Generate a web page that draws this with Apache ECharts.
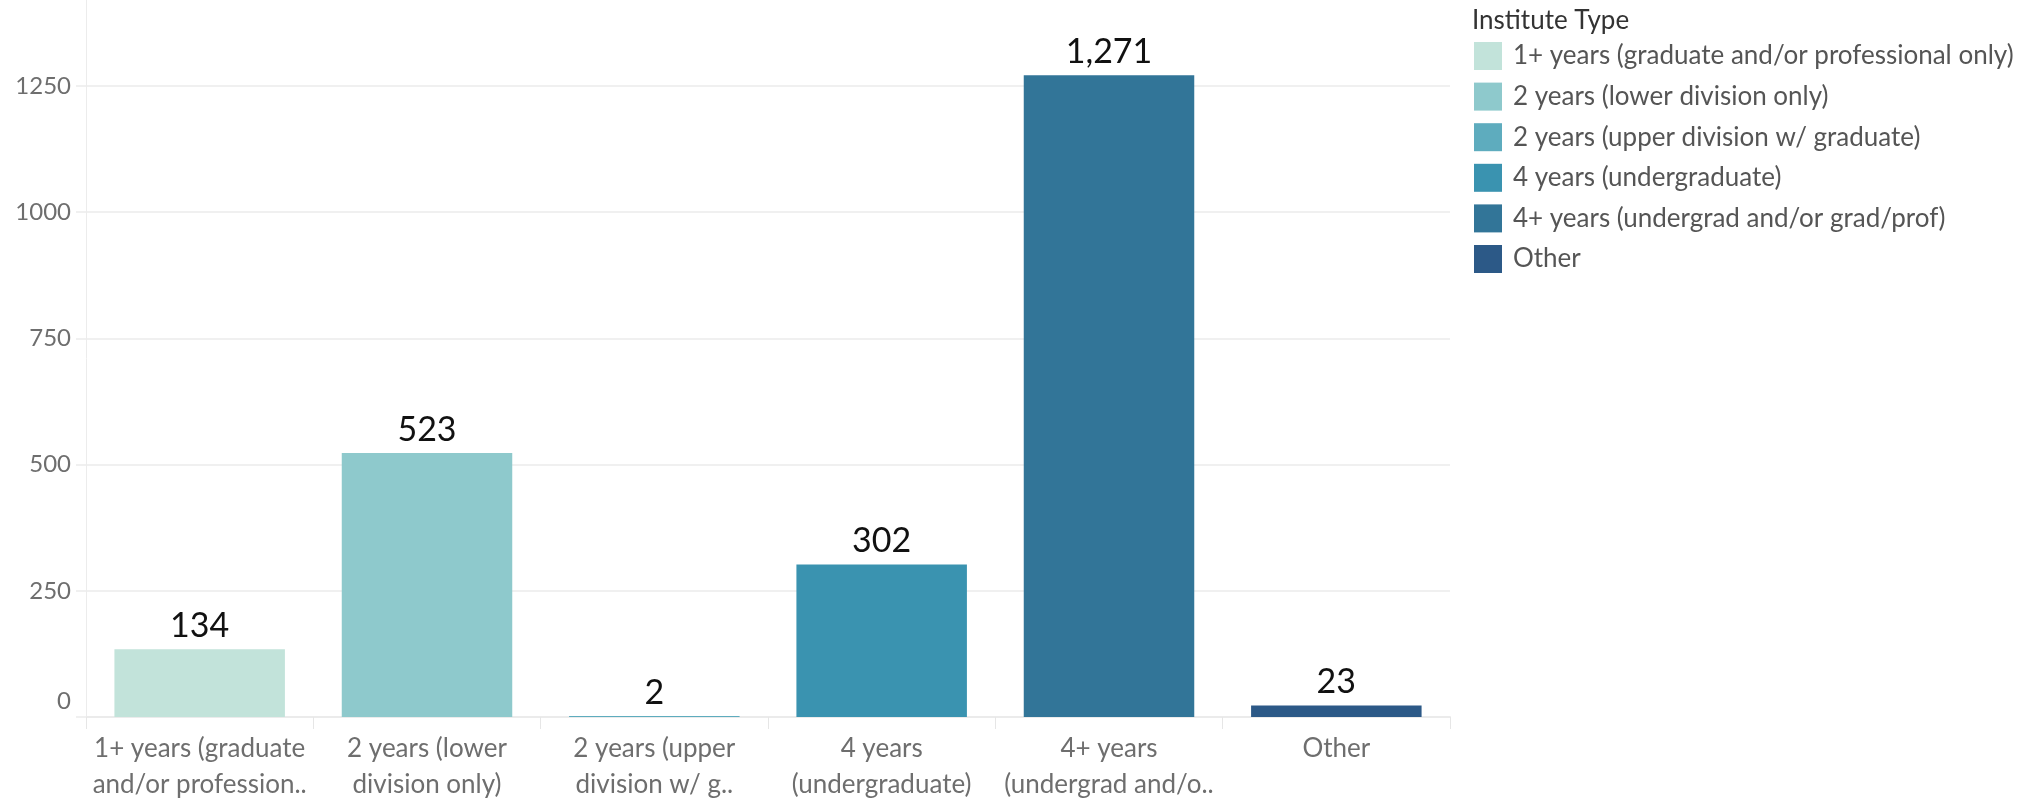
<!DOCTYPE html>
<html>
<head>
<meta charset="utf-8">
<script src="https://cdn.jsdelivr.net/npm/echarts@6/dist/echarts.min.js"></script>
<style>
html,body{margin:0;padding:0;background:#fff;}
#chart{width:2025px;height:798px;}
</style>
</head>
<body>
<div id="chart"></div>
<script>
const categories = [
  "1+ years (graduate and/or professional only)",
  "2 years (lower division only)",
  "2 years (upper division w/ graduate)",
  "4 years (undergraduate)",
  "4+ years (undergrad and/or grad/prof)",
  "Other"
];
const tickLabels = [
  "1+ years (graduate\nand/or profession..",
  "2 years (lower\ndivision only)",
  "2 years (upper\ndivision w/ g..",
  "4 years\n(undergraduate)",
  "4+ years\n(undergrad and/o..",
  "Other"
];
const counts = [134, 523, 2, 302, 1271, 23];
const yTicks = [0, 250, 500, 750, 1000, 1250];
const colors = ["#c2e3da", "#8ec9cc", "#5eacbe", "#3a93b0", "#327598", "#2c5987"];

const FONT = "Lato, 'Open Sans', sans-serif";
const chart = echarts.init(document.getElementById('chart'));

const series = categories.map((name, i) => ({
  name: name,
  type: 'bar',
  stack: 'total',
  barCategoryGap: '25%',
  itemStyle: { color: colors[i] },
  data: categories.map((c, j) => (j === i ? counts[i] : '-')),
  label: {
    show: true,
    position: 'top',
    distance: 6,
    color: '#111',
    fontFamily: FONT,
    fontSize: 34,
    formatter: p => p.value.toLocaleString('en-US')
  }
}));

chart.setOption({
  animation: false,
  backgroundColor: '#fff',
  title: {
    text: 'Institute Type',
    left: 1472,
    top: 8,
    padding: 0,
    textStyle: { fontFamily: FONT, fontSize: 26, fontWeight: 'normal', color: '#333' }
  },
  legend: {
    orient: 'vertical',
    left: 1474,
    top: 42,
    padding: 0,
    icon: 'rect',
    itemWidth: 28,
    itemHeight: 28,
    itemGap: 12.6,
    data: categories,
    textStyle: { fontFamily: FONT, fontSize: 26, lineHeight: 28, color: '#555', padding: [0, 0, 0, 6] }
  },
  grid: { left: 86, width: 1364, top: 0, bottom: 81, containLabel: false, outerBoundsMode: 'none' },
  xAxis: {
    type: 'category',
    data: categories,
    axisLine: { show: true, lineStyle: { color: '#ebebeb', width: 2 } },
    axisTick: { show: true, length: 12, lineStyle: { color: '#e6e6e6', width: 1 } },
    axisLabel: {
      interval: 0,
      margin: 14,
      color: '#6e6e6e',
      fontFamily: FONT,
      fontSize: 26,
      lineHeight: 36,
      formatter: (v, i) => tickLabels[i]
    }
  },
  yAxis: {
    type: 'value',
    min: 0,
    max: 1420,
    interval: 250,
    axisLine: { show: true, lineStyle: { color: '#ececec', width: 1 } },
    axisTick: { show: true, length: 10, customValues: yTicks, lineStyle: { color: '#f0f0f0', width: 2 } },
    splitLine: { show: true, lineStyle: { color: '#f0f0f0', width: 2 } },
    axisLabel: {
      customValues: yTicks,
      margin: 15,
      color: '#6e6e6e',
      fontFamily: FONT,
      fontSize: 24,
      formatter: v => (v === 0 ? '{z|0}' : String(v)),
      rich: { z: { fontFamily: FONT, fontSize: 24, color: '#6e6e6e', padding: [0, 0, 32, 0] } }
    }
  },
  series: series
});
</script>
</body>
</html>
